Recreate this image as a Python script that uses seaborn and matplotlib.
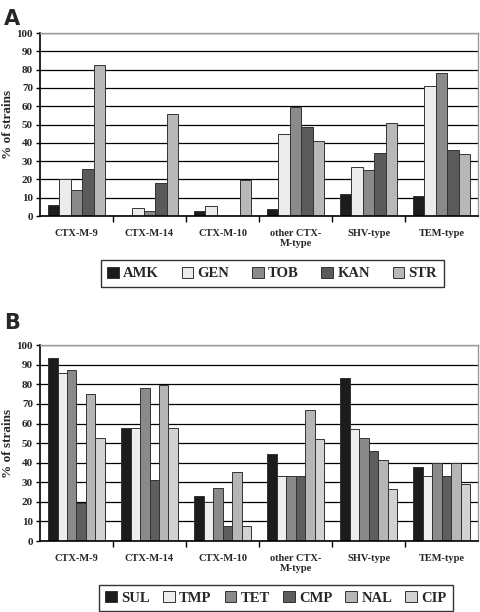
import numpy as np
import pandas as pd
import seaborn as sns
import matplotlib
matplotlib.use("Agg")
import matplotlib.pyplot as plt
from matplotlib.ticker import FixedLocator

categories = ["CTX-M-9", "CTX-M-14", "CTX-M-10", "other CTX-\nM-type", "SHV-type", "TEM-type"]

# Panel A (aminoglycosides)
drugs_a = ["AMK", "GEN", "TOB", "KAN", "STR"]
AMK = [6.3, 0, 3.0, 4.0, 12.3, 11.2]
GEN = [20.5, 4.6, 5.3, 44.6, 26.6, 70.9]
TOB = [14.5, 2.5, 0, 59.8, 25.1, 78.3]
KAN = [25.6, 17.9, 0, 48.5, 34.3, 35.9]
STR = [82.6, 55.7, 19.8, 40.9, 50.7, 33.7]

# Panel B (other antibiotics)
drugs_b = ["SUL", "TMP", "TET", "CMP", "NAL", "CIP"]
SUL = [93.5, 57.7, 22.9, 44.6, 83.3, 37.9]
TMP = [85.9, 57.7, 19.7, 33.3, 57.0, 33.3]
TET = [87.4, 78.0, 27.3, 33.3, 52.4, 40.0]
CMP = [19.3, 31.4, 7.6, 33.3, 46.2, 33.3]
NAL = [75.0, 79.8, 35.0, 66.7, 41.5, 40.0]
CIP = [52.7, 57.7, 7.6, 52.0, 26.4, 28.9]

yticks = list(range(0, 101, 10))

colors_a = ["#1c1c1c", "#ececec", "#8a8a8a", "#5a5a5a", "#b8b8b8"]
colors_b = ["#1c1c1c", "#eeeeee", "#8a8a8a", "#5e5e5e", "#b6b6b6", "#d2d2d2"]

def long_df(drugs, series):
    rows = []
    for d, vals in zip(drugs, series):
        for c, v in zip(categories, vals):
            rows.append({"cat": c, "drug": d, "pct": v})
    return pd.DataFrame(rows)

df_a = long_df(drugs_a, [AMK, GEN, TOB, KAN, STR])
df_b = long_df(drugs_b, [SUL, TMP, TET, CMP, NAL, CIP])

sns.set_theme(style="white")
plt.rcParams["font.family"] = ["Liberation Serif", "DejaVu Serif"]
plt.rcParams["font.weight"] = "bold"

fig = plt.figure(figsize=(4.8, 6.12), dpi=100)
ax_a = fig.add_axes([0.0833, 0.647, 0.9127, 0.299])
ax_b = fig.add_axes([0.0833, 0.116, 0.9127, 0.320])

def draw(ax, df, drugs, colors, legend_center, colspace):
    sns.barplot(data=df, x="cat", y="pct", hue="drug", hue_order=drugs,
                order=categories, palette=colors, width=0.78, gap=0,
                edgecolor="#333333", linewidth=0.7, ax=ax, legend=True)
    ax.set_ylim(0, 100)
    ax.set_xlim(-0.5, len(categories) - 0.5)
    ax.set_yticks(yticks)
    ax.set_yticklabels([str(t) for t in yticks], fontsize=8, fontweight="bold")
    ax.set_axisbelow(True)
    ax.yaxis.grid(True, color="black", linewidth=0.9)
    ax.xaxis.grid(False)
    ax.set_xlabel("")
    ax.set_ylabel("% of strains", fontsize=9.5, fontweight="bold", labelpad=2)
    ax.tick_params(axis="x", which="major", length=0, pad=9, labelsize=7.5)
    for lab in ax.get_xticklabels():
        lab.set_fontweight("bold")
    ax.xaxis.set_minor_locator(FixedLocator(np.arange(0.5, len(categories) - 0.5, 1.0)))
    ax.tick_params(axis="x", which="minor", length=4, width=1, color="black", direction="out", bottom=True)
    ax.tick_params(axis="y", length=3, width=1, color="black", direction="out", left=True, pad=2)
    for s in ["left", "bottom"]:
        ax.spines[s].set_color("black")
        ax.spines[s].set_linewidth(1.2)
    for s in ["top", "right"]:
        ax.spines[s].set_color("#999999")
        ax.spines[s].set_linewidth(1.0)
    handles, labels = ax.get_legend_handles_labels()
    ax.get_legend().remove()
    leg = fig.legend(handles, labels, loc="center", bbox_to_anchor=legend_center,
                     ncol=len(drugs), frameon=True, fancybox=False,
                     prop={"weight": "bold", "size": 10.5}, handlelength=0.8,
                     handleheight=0.8, handletextpad=0.3, columnspacing=colspace,
                     borderpad=0.45, edgecolor="black")
    leg.get_frame().set_linewidth(1.0)

draw(ax_a, df_a, drugs_a, colors_a, (0.567, 0.553), 1.55)
draw(ax_b, df_b, drugs_b, colors_b, (0.575, 0.023), 0.9)

fig.text(0.008, 0.985, "A", fontsize=15, fontweight="bold", family="DejaVu Sans", va="top")
fig.text(0.008, 0.488, "B", fontsize=15, fontweight="bold", family="DejaVu Sans", va="top")

fig.savefig("out.png", dpi=100)
